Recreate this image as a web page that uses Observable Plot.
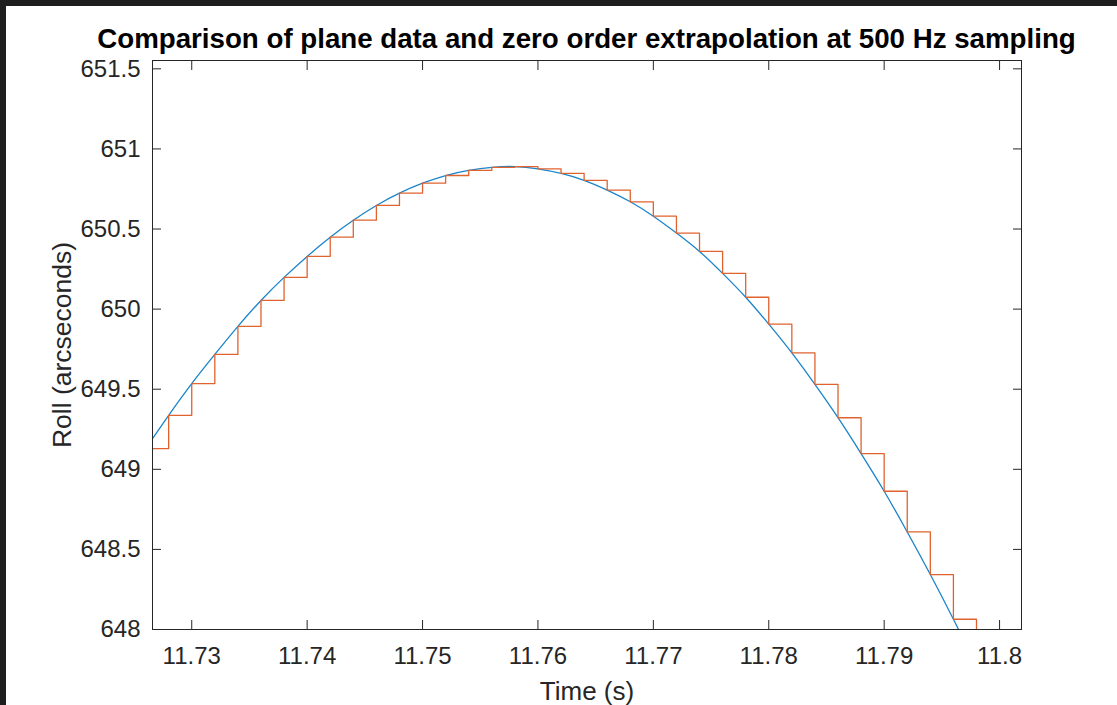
<!DOCTYPE html>
<html><head><meta charset="utf-8">
<script src="https://cdn.jsdelivr.net/npm/d3@7"></script>
<script src="https://cdn.jsdelivr.net/npm/@observablehq/plot@0.6"></script>
<style>
html,body{margin:0;padding:0;background:#1e1e1e;width:1117px;height:705px;overflow:hidden;}
#page{position:absolute;left:6px;top:6px;width:1111px;height:699px;background:#fff;font-family:"Liberation Sans",Arial,sans-serif;}
#title{box-sizing:border-box;height:50px;padding-top:19px;padding-left:50px;text-align:center;font-weight:bold;font-size:27.7px;line-height:27px;color:#000;white-space:nowrap;}
</style></head><body><div id="page"><div id="title">Comparison of plane data and zero order extrapolation at 500 Hz sampling</div><div id="chart"></div></div>
<script>
// sample instants (s) at 500 Hz
const sampleTime = [11.726, 11.728, 11.730, 11.732, 11.734, 11.736, 11.738, 11.740, 11.742, 11.744,
  11.746, 11.748, 11.750, 11.752, 11.754, 11.756, 11.758, 11.760, 11.762, 11.764,
  11.766, 11.768, 11.770, 11.772, 11.774, 11.776, 11.778, 11.780, 11.782, 11.784,
  11.786, 11.788, 11.790, 11.792, 11.794, 11.796, 11.798, 11.800];
// roll (arcseconds) read at each sample
const rollArcsec = [649.129, 649.337, 649.535, 649.717, 649.892, 650.054, 650.198, 650.329, 650.449, 650.555,
  650.647, 650.724, 650.786, 650.834, 650.866, 650.885, 650.890, 650.876, 650.847, 650.804,
  650.743, 650.670, 650.580, 650.475, 650.360, 650.223, 650.074, 649.906, 649.727, 649.530,
  649.322, 649.098, 648.863, 648.609, 648.343, 648.064, 647.772, 647.470];
const xTicks = [11.73, 11.74, 11.75, 11.76, 11.77, 11.78, 11.79, 11.8];
const yTicks = [648, 648.5, 649, 649.5, 650, 650.5, 651, 651.5];
const xLabel = "Time (s)";
const yLabel = "Roll (arcseconds)";

const rows = sampleTime.map((t, i) => ({t, roll: rollArcsec[i]}));
const ink = "#262626";
const chart = Plot.plot({
  width: 1111, height: 649,
  marginLeft: 146, marginRight: 96, marginTop: 4, marginBottom: 76,
  style: {fontFamily: "Liberation Sans, Arial, sans-serif", fontSize: "24px", color: ink, background: "#fff", overflow: "visible"},
  x: {domain: [11.7266, 11.8019]},
  y: {domain: [648, 651.552]},
  marks: [
    Plot.line(rows, {x: "t", y: "roll", curve: "natural", stroke: "#1a84c9", strokeWidth: 1.3, clip: true}),
    Plot.line(rows, {x: "t", y: "roll", curve: "step-after", stroke: "#e0632f", strokeWidth: 1.3, clip: true}),
    Plot.frame({stroke: ink}),
    Plot.axisX(xTicks, {anchor: "bottom", tickSize: -9, tickPadding: 26, tickFormat: d => String(+d.toFixed(2)), label: null, fontSize: 24}),
    Plot.axisX(xTicks, {anchor: "top", tickSize: -9, tickFormat: () => "", label: null}),
    Plot.axisY(yTicks, {anchor: "left", tickSize: -9, tickPadding: 21, tickFormat: d => String(d), label: null, fontSize: 24}),
    Plot.axisY(yTicks, {anchor: "right", tickSize: -9, tickFormat: () => "", label: null}),
    Plot.text([xLabel], {text: d => d, frameAnchor: "bottom", textAnchor: "middle", lineAnchor: "top", dy: 52, fontSize: 26, fill: ink}),
    Plot.text([yLabel], {text: d => d, frameAnchor: "left", rotate: -90, dx: -90, textAnchor: "middle", lineAnchor: "middle", fontSize: 26.5, fill: ink})
  ]
});
document.getElementById("chart").appendChild(chart);
</script>
</body></html>
